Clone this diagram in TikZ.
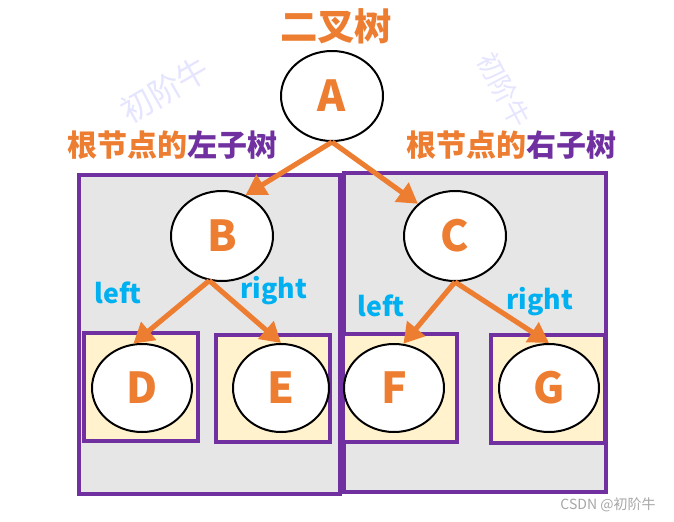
\documentclass[tikz,border=0pt]{standalone}
\usepackage{fontspec}
\usepackage{tikz}
\usetikzlibrary{arrows.meta,shapes.geometric}
\newfontfamily\cjk{Noto Sans CJK SC}
\definecolor{treeorange}{HTML}{ED7D31}
\definecolor{treepurple}{HTML}{7030A0}
\definecolor{treecyan}{HTML}{00B0F0}
\definecolor{boxgray}{HTML}{E6E6E6}
\definecolor{leafyellow}{HTML}{FFF2CC}
\tikzset{>={Triangle[length=15pt,width=17pt]}}
\tikzset{
  vertex/.style={ellipse,draw=black,fill=white,line width=1.5pt,inner sep=0pt,font=\cjk\bfseries\fontsize{32}{34}\selectfont,text=treeorange},
  branch/.style={draw=treeorange,line width=3.8pt,->},
  sidelabel/.style={font=\cjk\bfseries\fontsize{20}{22}\selectfont,text=treecyan,inner sep=0pt},
  subtreebox/.style={draw=treepurple,fill=boxgray,line width=2.4pt},
  leafbox/.style={draw=treepurple,fill=leafyellow,line width=2.4pt}
}

\begin{document}
\begin{tikzpicture}[x=0.75pt,y=-0.75pt]
\useasboundingbox (0,0) rectangle (674,521);
\node[inner sep=0pt,font=\cjk\bfseries\fontsize{28}{30}\selectfont,text=treeorange] (title) at (336,26) {二叉树};
\node[inner sep=0pt,rotate=30,font=\cjk\fontsize{24}{26}\selectfont,text=blue!10] (mark1) at (165,90) {初阶牛};
\node[inner sep=0pt,rotate=-62,font=\cjk\fontsize{20}{22}\selectfont,text=blue!10] (mark2) at (504,90) {初阶牛};
\draw[subtreebox] (79,175) rectangle (340,494);
\draw[subtreebox] (344,173) rectangle (606,492);
\draw[leafbox] (84,333) rectangle (198,441);
\draw[leafbox] (216,335) rectangle (330,442);
\draw[leafbox] (343,334) rectangle (457,442);
\draw[leafbox] (491,335) rectangle (605,443);
\node[inner sep=0pt,font=\cjk\bfseries\fontsize{22.5}{24}\selectfont] (lefttree) at (172,145) {\color{treeorange}根节点的\color{treepurple}左子树};
\node[inner sep=0pt,font=\cjk\bfseries\fontsize{22.5}{24}\selectfont] (righttree) at (511,145) {\color{treeorange}根节点的\color{treepurple}右子树};
\node[vertex,minimum width=76.5pt,minimum height=67.5pt] (A) at (332,96) {A};
\node[vertex,minimum width=76.5pt,minimum height=67.5pt] (B) at (222,236) {B};
\node[vertex,minimum width=76.5pt,minimum height=67.5pt] (C) at (455,236) {C};
\node[vertex,minimum width=75pt,minimum height=66pt] (D) at (142,388) {D};
\node[vertex,minimum width=72pt,minimum height=66pt] (E) at (281,388) {E};
\node[vertex,minimum width=75pt,minimum height=66pt] (F) at (394,388) {F};
\node[vertex,minimum width=75pt,minimum height=66pt] (G) at (549,388) {G};
\path (A.south) edge[branch] (B.60);
\path (A.south) edge[branch] (C.139);
\path (B.254) edge[branch] (D.101);
\path (B.254) edge[branch] (E.north);
\path (C.south) edge[branch] (F.78);
\path (C.south) edge[branch] (G.north);
\node[sidelabel] (leftB) at (118,293) {left};
\node[sidelabel] (rightB) at (274,291) {right};
\node[sidelabel] (leftC) at (381,306) {left};
\node[sidelabel] (rightC) at (540,302) {right};
\node[inner sep=0pt,font=\cjk\fontsize{10.5}{12}\selectfont,text=gray!70] (csdn) at (608,505) {CSDN @初阶牛};
\end{tikzpicture}
\end{document}
